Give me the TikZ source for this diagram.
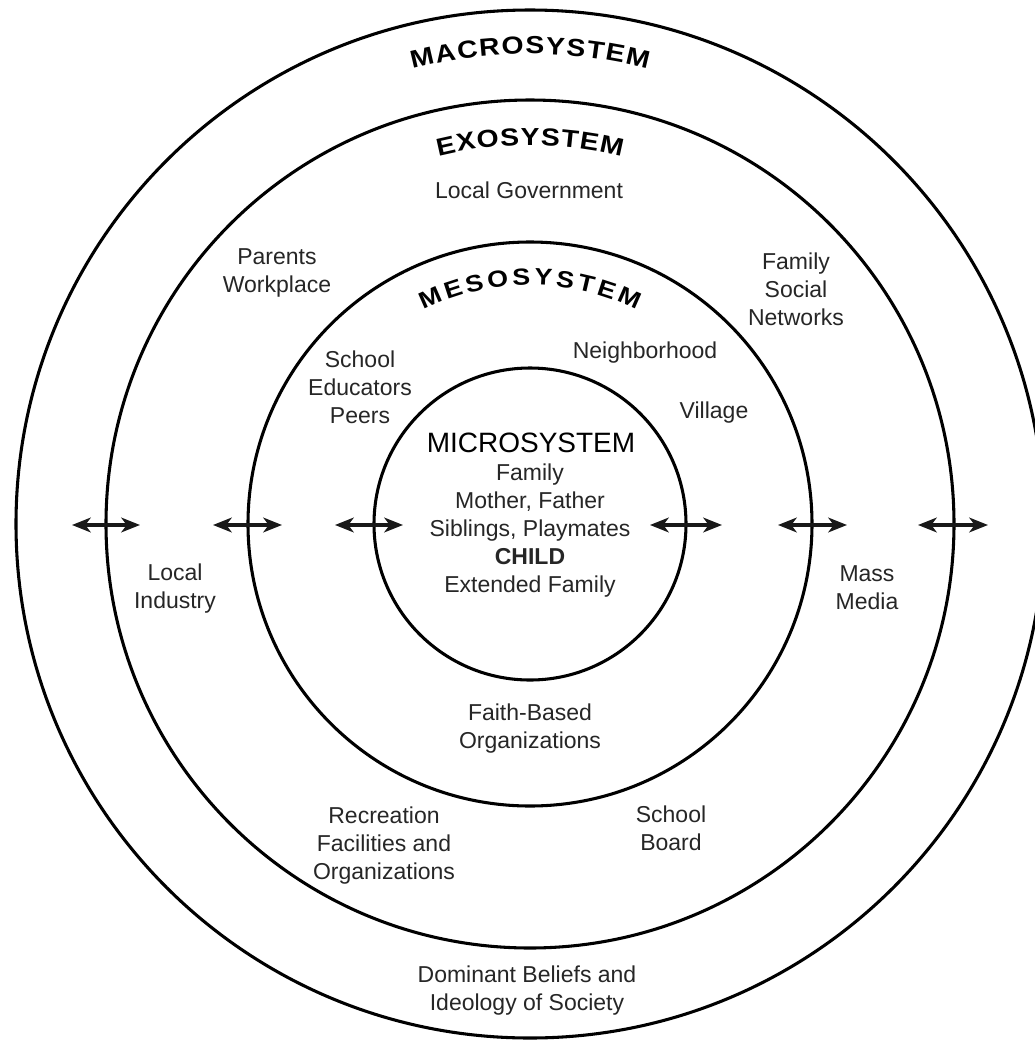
\documentclass[tikz,border=0pt]{standalone}
\usepackage{fontspec}
\setmainfont{Liberation Sans}
\newfontfamily\ringfamily[FakeStretch=1.15]{Liberation Sans}
\usepackage{tikz}
\usetikzlibrary{arrows.meta, positioning, calc, decorations.text}

\newcommand{\ringfont}{\ringfamily\bfseries\fontsize{18.5pt}{20pt}\selectfont}
\newcommand{\mesofont}{\ringfamily\bfseries\fontsize{17.5pt}{19pt}\selectfont}

\begin{document}
\begin{tikzpicture}[x=0.75pt, y=-0.75pt,
    ring/.style={draw=black, line width=2.3pt},
    label/.style={text=black!85, align=center, font=\fontsize{17.25pt}{21pt}\selectfont},
    ringtitle/.style={decorate, decoration={text along path, text align={fit to path}}},
    twoway/.style={{Stealth[length=14pt, width=11pt, inset=4pt]}-{Stealth[length=14pt, width=11pt, inset=4pt]}, draw=black!90, line width=2.8pt}]

    \useasboundingbox (0,0) rectangle (1035,1040);
    \clip (0,0) rectangle (1035,1040);
    \fill[white] (0,0) rectangle (1035,1040);

    \coordinate (c) at (530,524);
    \draw[ring] (c) circle (385.5pt);
    \draw[ring] (c) circle (318pt);
    \draw[ring] (c) circle (211.5pt);
    \draw[ring] (c) circle (117pt);

    \path[ringtitle, decoration={text={|\ringfont|MACROSYSTEM}}]
        ($(c)+(104.5:352.5pt)$) arc[start angle=104.5, end angle=75.5, radius=352.5pt];
    \path[ringtitle, decoration={text={|\ringfont|EXOSYSTEM}}]
        ($(c)+(104:284.25pt)$) arc[start angle=104, end angle=76, radius=284.25pt];
    \path[ringtitle, decoration={text={|\mesofont|MESOSYSTEM}}]
        ($(c)+(116.5:179.25pt)$) arc[start angle=116.5, end angle=63.5, radius=179.25pt];

    \node[label] (gov) at (529,190) {Local Government};
    \node[label] (work) at (277,273) {Parents\\Workplace};
    \node[label] (social) at (796,289) {Family\\Social\\Networks};
    \node[label] (school) at (360,387) {School\\Educators\\Peers};
    \node[label] (hood) at (645,353) {Neighborhood};
    \node[label] (village) at (714,413) {Village};
    \node[text=black, font=\fontsize{21pt}{24pt}\selectfont] (micro) at (531,443) {MICROSYSTEM};
    \node[label] (family) at (530,531) {Family\\Mother, Father\\Siblings, Playmates\\{\bfseries CHILD}\\Extended Family};
    \node[label] (industry) at (175,589) {Local\\Industry};
    \node[label] (media) at (867,588) {Mass\\Media};
    \node[label] (faith) at (530,729) {Faith-Based\\Organizations};
    \node[label] (recreation) at (384,846) {Recreation\\Facilities and\\Organizations};
    \node[label] (board) at (671,828) {School\\Board};
    \node[label] (beliefs) at (527,991) {Dominant Beliefs and\\Ideology of Society};

    \coordinate (exoWa) at (72,525);   \coordinate (exoWb) at (140,525);
    \coordinate (mesoWa) at (213,525); \coordinate (mesoWb) at (282,525);
    \coordinate (microWa) at (335,525); \coordinate (microWb) at (403,525);
    \coordinate (microEa) at (650,525); \coordinate (microEb) at (722,525);
    \coordinate (mesoEa) at (778,525); \coordinate (mesoEb) at (847,525);
    \coordinate (exoEa) at (918,525);  \coordinate (exoEb) at (988,525);

    \draw[twoway] (exoWa) -- (exoWb);
    \draw[twoway] (mesoWa) -- (mesoWb);
    \draw[twoway] (microWa) -- (microWb);
    \draw[twoway] (microEa) -- (microEb);
    \draw[twoway] (mesoEa) -- (mesoEb);
    \draw[twoway] (exoEa) -- (exoEb);
\end{tikzpicture}
\end{document}
